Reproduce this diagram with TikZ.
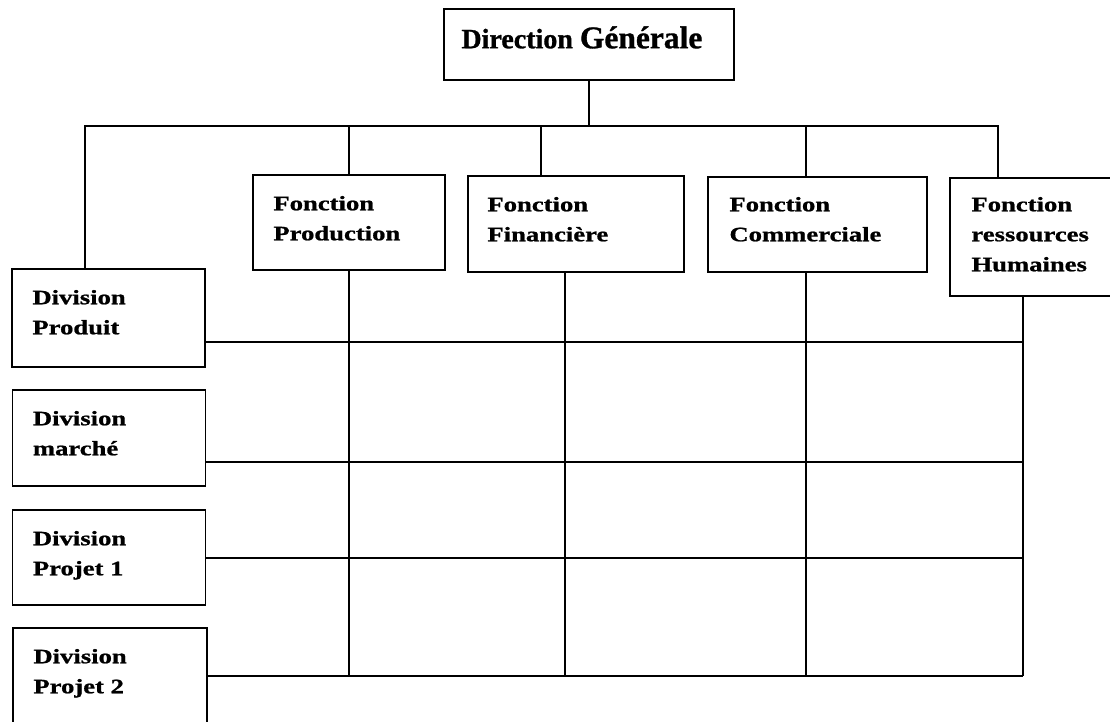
\documentclass[tikz,border=0pt]{standalone}
\usepackage{fontspec}
\setmainfont{Liberation Serif}
\newfontfamily\boxfont[FakeStretch=1.3,FakeBold=1]{Liberation Serif}
\newfontfamily\topfont[FakeBold=1]{Liberation Serif}
\begin{document}
\begin{tikzpicture}[x=1pt,y=-1pt,
  box/.style={draw,line width=1.5pt,rectangle,inner sep=0pt},
  lab/.style={anchor=base west,inner sep=0pt,align=left,
    font=\boxfont\bfseries\fontsize{20.5}{30}\selectfont},
  conn/.style={line width=1.5pt}]
\useasboundingbox (0,0) rectangle (1110,722);
\clip (0,0) rectangle (1110,722);
% boxes
\node[box,minimum width=290pt,minimum height=71pt] (dg) at (589,44.5) {};
\node[box,minimum width=192pt,minimum height=95pt] (prod) at (349,222.5) {};
\node[box,minimum width=216pt,minimum height=96pt] (fin) at (576,224) {};
\node[box,minimum width=219pt,minimum height=95pt] (com) at (817.5,224.5) {};
\node[box,minimum width=175pt,minimum height=118pt] (rh) at (1037.5,237) {};
\node[box,minimum width=193pt,minimum height=98pt] (dprod) at (108.5,318) {};
\node[box,minimum width=193pt,minimum height=96pt] (dmar) at (109,438) {};
\node[box,minimum width=193pt,minimum height=95pt] (dp1) at (109,557.5) {};
\node[box,minimum width=194pt,minimum height=112pt] (dp2) at (110,684) {};
% texts (base anchor = baseline of the last line)
\node[anchor=base west,inner sep=0pt] (tdg) at ([xshift=18pt,yshift=-40pt]dg.north west)
  {\topfont\bfseries\fontsize{28}{30}\selectfont Direction \fontsize{31.5}{34}\selectfont Générale};
\node[lab] (tprod) at ([xshift=21pt,yshift=-66pt]prod.north west) {Fonction\\Production};
\node[lab] (tfin) at ([xshift=20pt,yshift=-66pt]fin.north west) {Fonction\\Financière};
\node[lab] (tcom) at ([xshift=22pt,yshift=-65pt]com.north west) {Fonction\\Commerciale};
\node[lab] (trh) at ([xshift=22pt,yshift=-94pt]rh.north west) {Fonction\\ressources\\Humaines};
\node[lab] (tdprod) at ([xshift=21pt,yshift=-66pt]dprod.north west) {Division\\Produit};
\node[lab] (tdmar) at ([xshift=21pt,yshift=-66pt]dmar.north west) {Division\\marché};
\node[lab] (tdp1) at ([xshift=21pt,yshift=-66pt]dp1.north west) {Division\\Projet 1};
\node[lab] (tdp2) at ([xshift=21pt,yshift=-66pt]dp2.north west) {Division\\Projet 2};
% connector coordinates
\coordinate (barL) at (85,126);
\coordinate (barR) at (998,126);
\coordinate (tFin) at (541,126);
\coordinate (tCom) at (806,126);
\coordinate (bFin) at (565,676);
\coordinate (bCom) at (806,676);
\coordinate (r1) at (1023,342);
\coordinate (r2) at (1023,462);
\coordinate (r3) at (1023,558);
\coordinate (r4) at (1023,676);
% top hierarchy
\draw[conn] (dg.south) -- (dg.south |- barL);
\draw[conn] (barL |- dprod.north) -- (barL) -- (barR) -- (barR |- rh.north);
\draw[conn] (prod.north) -- (prod.north |- barL);
\draw[conn] (tFin) -- (tFin |- fin.north);
\draw[conn] (tCom) -- (tCom |- com.north);
% matrix grid
\draw[conn] (prod.south) -- (prod.south |- r4);
\draw[conn] (bFin |- fin.south) -- (bFin);
\draw[conn] (bCom |- com.south) -- (bCom);
\draw[conn] (r4 |- rh.south) -- (r4);
\draw[conn] (r1 -| dprod.east) -- (r1);
\draw[conn] (r2 -| dmar.east) -- (r2);
\draw[conn] (r3 -| dp1.east) -- (r3);
\draw[conn] (r4 -| dp2.east) -- (r4);
\end{tikzpicture}
\end{document}
